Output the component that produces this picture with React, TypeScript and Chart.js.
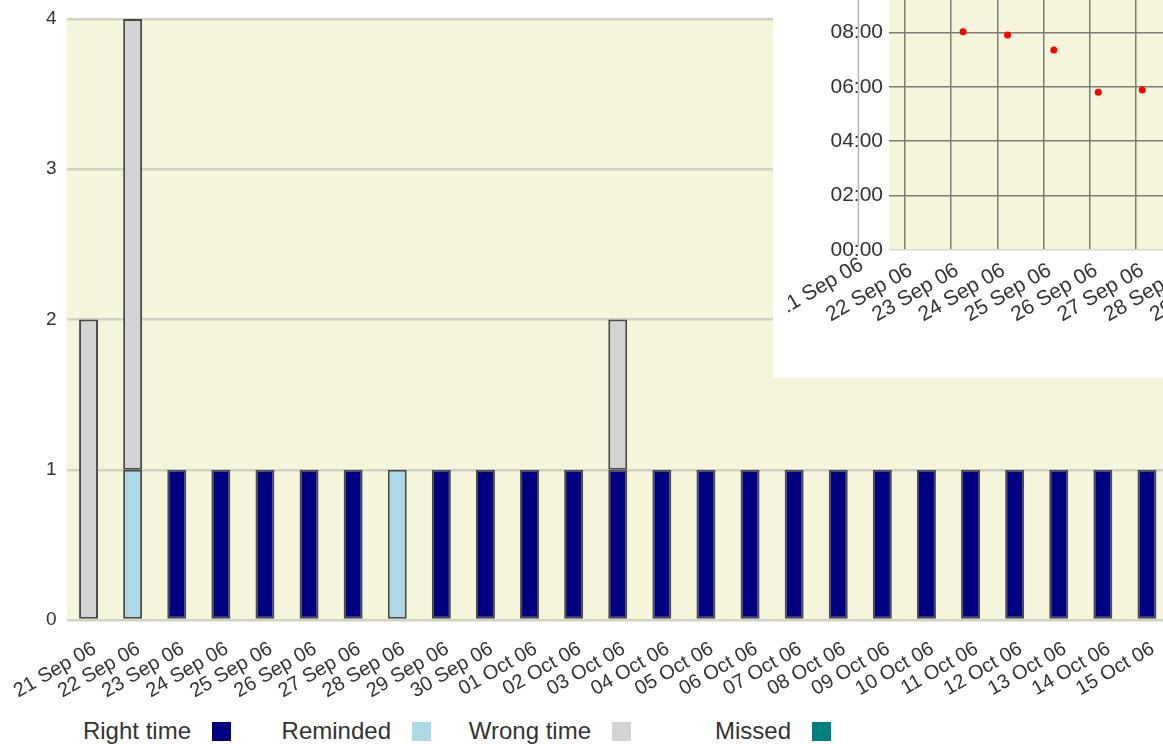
import React, { useEffect, useRef } from 'react';
import { Chart, registerables } from 'chart.js';

Chart.register(...registerables);

const FONT = '"Liberation Sans", Arial, Helvetica, sans-serif';

// ---- Main chart data ----
const categories = [
  '21 Sep 06', '22 Sep 06', '23 Sep 06', '24 Sep 06', '25 Sep 06', '26 Sep 06', '27 Sep 06',
  '28 Sep 06', '29 Sep 06', '30 Sep 06', '01 Oct 06', '02 Oct 06', '03 Oct 06', '04 Oct 06',
  '05 Oct 06', '06 Oct 06', '07 Oct 06', '08 Oct 06', '09 Oct 06', '10 Oct 06', '11 Oct 06',
  '12 Oct 06', '13 Oct 06', '14 Oct 06', '15 Oct 06',
];
const rightTime = [0, 0, 1, 1, 1, 1, 1, 0, 1, 1, 1, 1, 1, 1, 1, 1, 1, 1, 1, 1, 1, 1, 1, 1, 1];
const reminded = [0, 1, 0, 0, 0, 0, 0, 1, 0, 0, 0, 0, 0, 0, 0, 0, 0, 0, 0, 0, 0, 0, 0, 0, 0];
const wrongTime = [2, 3, 0, 0, 0, 0, 0, 0, 0, 0, 0, 0, 1, 0, 0, 0, 0, 0, 0, 0, 0, 0, 0, 0, 0];
const missed = [0, 0, 0, 0, 0, 0, 0, 0, 0, 0, 0, 0, 0, 0, 0, 0, 0, 0, 0, 0, 0, 0, 0, 0, 0];
const seriesLabels = ['Right time', 'Reminded', 'Wrong time', 'Missed'];
const seriesColors = ['#000080', '#add8e6', '#d3d3d3', '#008080'];
const seriesData = [rightTime, reminded, wrongTime, missed];
const countTicks = [0, 1, 2, 3, 4];

// ---- Inset chart data (time of day, hours) ----
const insetCategories = [
  '21 Sep 06', '22 Sep 06', '23 Sep 06', '24 Sep 06', '25 Sep 06',
  '26 Sep 06', '27 Sep 06', '28 Sep 06', '29 Sep 06',
];
const insetDay = [2.26, 3.22, 4.22, 5.18, 6.13];
const insetHours = [8.02, 7.9, 7.35, 5.8, 5.88];
const insetHourTicks = [0, 2, 4, 6, 8, 10];

const plotBg = {
  id: 'plotBg',
  beforeDraw(chart: any, _args: any, opts: any) {
    const { ctx, chartArea } = chart;
    ctx.save();
    ctx.fillStyle = opts.color || '#f5f5dc';
    ctx.fillRect(chartArea.left, chartArea.top, chartArea.right - chartArea.left, chartArea.bottom - chartArea.top);
    ctx.restore();
  },
};

const INSET_LABEL_OFFSET = 6;
const INSET_LABEL_PAD = 8;
const INSET_FONT_SIZE = 21;

const firstDayPlugin = {
  id: 'firstDay',
  beforeDatasetsDraw(chart: any) {
    const xs = chart.scales.x;
    const area = chart.chartArea;
    const ctx = chart.ctx;
    const px = xs.getPixelForValue(0);
    ctx.save();
    ctx.strokeStyle = '#b4b4b4';
    ctx.lineWidth = 1.5;
    ctx.beginPath();
    ctx.moveTo(px, area.top);
    ctx.lineTo(px, area.bottom - 4);
    ctx.stroke();
    ctx.translate(px, xs.top + INSET_LABEL_PAD);
    ctx.rotate(-Math.PI / 6);
    ctx.font = `${INSET_FONT_SIZE}px ${FONT}`;
    ctx.fillStyle = '#333';
    ctx.textAlign = 'right';
    ctx.textBaseline = 'middle';
    ctx.fillText(insetCategories[0], 0, INSET_FONT_SIZE * 0.3);
    ctx.restore();
  },
};

function pad2(n: number) {
  return n < 10 ? '0' + n : '' + n;
}

function MainChart() {
  const ref = useRef<HTMLCanvasElement>(null);
  useEffect(() => {
    if (!ref.current) return;
    const chart = new Chart(ref.current, {
      type: 'bar',
      data: {
        labels: categories,
        datasets: seriesLabels.map((label, i) => ({
          label,
          data: seriesData[i],
          backgroundColor: seriesColors[i],
          borderColor: '#4a4a4a',
          borderWidth: 2,
          borderSkipped: false,
          categoryPercentage: 1,
          barPercentage: 0.43,
        })),
      },
      options: {
        animation: false,
        responsive: false,
        maintainAspectRatio: false,
        layout: { padding: { top: 19, left: 0, right: 0, bottom: 0 } },
        plugins: {
          legend: { display: false },
          tooltip: { enabled: false },
          plotBg: { color: '#f5f5dc' },
        } as any,
        scales: {
          x: {
            stacked: true,
            grid: { display: false, drawTicks: false },
            border: { display: false },
            ticks: {
              minRotation: 30,
              maxRotation: 30,
              autoSkip: false,
              labelOffset: 6,
              padding: 17,
              color: '#333',
              font: { family: FONT, size: 20 },
            },
            afterFit: (s: any) => {
              s.height = 80;
              s.paddingLeft = 0;
              s.paddingRight = 0;
            },
          },
          y: {
            stacked: true,
            min: countTicks[0],
            max: countTicks[countTicks.length - 1],
            grid: { color: '#d2d2c3', lineWidth: 2.5, drawTicks: false },
            border: { display: false },
            ticks: {
              stepSize: 1,
              padding: 10,
              color: '#333',
              font: { family: FONT, size: 19 },
            },
            afterFit: (s: any) => {
              s.width = 66.5;
              s.paddingTop = 0;
              s.paddingBottom = 0;
            },
          },
        },
      },
      plugins: [plotBg],
    });
    return () => chart.destroy();
  }, []);
  return (
    <canvas
      ref={ref}
      width={1169}
      height={700}
      style={{ position: 'absolute', left: 0, top: 0, width: 1169, height: 700 }}
    />
  );
}

function InsetChart() {
  const ref = useRef<HTMLCanvasElement>(null);
  useEffect(() => {
    if (!ref.current) return;
    const chart = new Chart(ref.current, {
      type: 'scatter',
      data: {
        datasets: [
          {
            label: 'Time',
            data: insetDay.map((d, i) => ({ x: d, y: insetHours[i] })),
            backgroundColor: '#ff0000',
            borderWidth: 0,
            pointRadius: 3.5,
          },
        ],
      },
      options: {
        animation: false,
        responsive: false,
        maintainAspectRatio: false,
        layout: { padding: { top: 14, left: 0, right: 0, bottom: 0 } },
        plugins: {
          legend: { display: false },
          tooltip: { enabled: false },
          plotBg: { color: '#f5f5dc' },
        } as any,
        scales: {
          x: {
            type: 'linear',
            min: 0.66,
            max: 8.5,
            grid: { color: '#7d7d75', lineWidth: 1.5, drawTicks: false },
            border: { display: false },
            ticks: {
              stepSize: 1,
              includeBounds: false,
              minRotation: 30,
              maxRotation: 30,
              autoSkip: false,
              labelOffset: INSET_LABEL_OFFSET,
              padding: INSET_LABEL_PAD,
              color: '#333',
              font: { family: FONT, size: INSET_FONT_SIZE },
              callback: (v: any) => insetCategories[v] ?? '',
            },
            afterBuildTicks: (s: any) => {
              s.ticks = s.ticks.filter((t: any) => Number.isInteger(t.value) && t.value >= s.min && t.value <= s.max);
            },
            afterFit: (s: any) => {
              s.height = 100;
              s.paddingLeft = 0;
              s.paddingRight = 0;
            },
          },
          y: {
            type: 'linear',
            min: insetHourTicks[0],
            max: insetHourTicks[insetHourTicks.length - 1],
            grid: {
              color: (c: any) => (c.tick && c.tick.value === 0 ? '#d6d6d6' : '#7d7d75'),
              lineWidth: 1.5,
              drawTicks: false,
            },
            border: { display: false },
            ticks: {
              stepSize: 2,
              padding: 6,
              color: '#333',
              font: { family: FONT, size: INSET_FONT_SIZE },
              callback: (v: any) => pad2(v) + ':00',
            },
            afterFit: (s: any) => {
              s.width = 101;
              s.paddingTop = 0;
              s.paddingBottom = 0;
            },
          },
        },
      },
      plugins: [plotBg, firstDayPlugin],
    });
    return () => chart.destroy();
  }, []);
  return (
    <canvas
      ref={ref}
      width={468}
      height={386}
      style={{ position: 'absolute', left: 0, top: -36, width: 468, height: 386 }}
    />
  );
}

function Legend() {
  return (
    <div style={{ position: 'absolute', left: 31, top: 719, display: 'flex' }}>
      {seriesLabels.map((label, i) => (
        <div
          key={label}
          style={{
            width: 200,
            display: 'flex',
            justifyContent: 'flex-end',
            alignItems: 'center',
            fontFamily: FONT,
            fontSize: 24,
            color: '#333',
            lineHeight: '24px',
          }}
        >
          <span>{label}</span>
          <span
            style={{
              display: 'inline-block',
              width: 19,
              height: 19,
              marginLeft: 21,
              background: seriesColors[i],
            }}
          />
        </div>
      ))}
    </div>
  );
}

export default function App() {
  return (
    <div
      style={{
        position: 'fixed',
        left: 0,
        top: 0,
        width: 1163,
        height: 744,
        overflow: 'hidden',
        background: '#ffffff',
      }}
    >
      <MainChart />
      <Legend />
      <div
        style={{
          position: 'absolute',
          left: 773,
          top: 0,
          width: 390,
          height: 378,
          background: '#ffffff',
          overflow: 'hidden',
        }}
      >
        <div
          style={{
            position: 'absolute',
            left: 15,
            top: 0,
            width: 375,
            height: 378,
            overflow: 'hidden',
          }}
        >
          <InsetChart />
        </div>
      </div>
    </div>
  );
}
